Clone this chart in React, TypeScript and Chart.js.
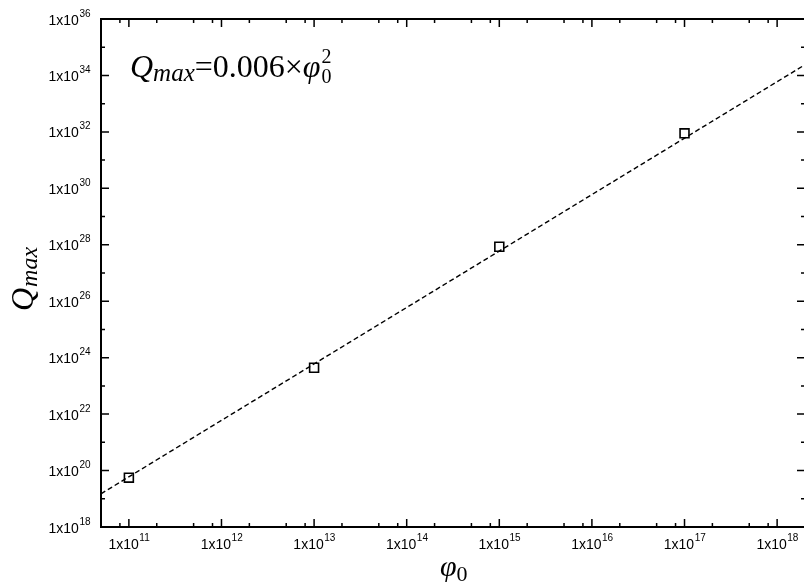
import React, { useEffect, useRef } from "react";
import { Chart, registerables } from "chart.js";

Chart.register(...registerables);

// Data
const phi0 = [1e11, 1e13, 1e15, 1e17];
const qmax = [5.6e19, 4.4e23, 8.5e27, 8.9e31];
// Dashed fit line endpoints (Qmax = 0.006 × φ0²)
const fitPhi0 = [5e10, 2e18];
const fitQmax = [1.5e19, 2.4e34];

const xMin = 5e10;
const xMax = 2e18;
const yMin = 1e18;
const yMax = 1e36;

const xMajorExps = [11, 12, 13, 14, 15, 16, 17, 18];
const xMinorMantissas = [2, 5, 8];
const yLabelExps = [18, 20, 22, 24, 26, 28, 30, 32, 34, 36];
const yMinorExps = [19, 21, 23, 25, 27, 29, 31, 33, 35];

const SANS = '"Liberation Sans", Arial, sans-serif';
const SERIF = '"Liberation Serif", "Times New Roman", serif';

const originAxes = {
  id: "originAxes",
  afterDraw(chart: any) {
    const ctx: CanvasRenderingContext2D = chart.ctx;
    const { left, right, top, bottom } = chart.chartArea;
    const xs = chart.scales.x;
    const ys = chart.scales.y;
    ctx.save();
    ctx.strokeStyle = "#000";
    ctx.fillStyle = "#000";
    ctx.lineWidth = 1.5;

    const vTick = (px: number, len: number) => {
      if (px < left - 0.5 || px > right + 0.5) return;
      ctx.beginPath();
      ctx.moveTo(px, bottom);
      ctx.lineTo(px, bottom - len);
      ctx.moveTo(px, top);
      ctx.lineTo(px, top + len);
      ctx.stroke();
    };
    const hTick = (py: number, len: number) => {
      if (py < top - 0.5 || py > bottom + 0.5) return;
      ctx.beginPath();
      ctx.moveTo(left, py);
      ctx.lineTo(left + len, py);
      ctx.moveTo(right, py);
      ctx.lineTo(right - len, py);
      ctx.stroke();
    };

    // x ticks
    const xDecades = [10, ...xMajorExps];
    xDecades.forEach((e) => {
      xMinorMantissas.forEach((m) => {
        const v = m * Math.pow(10, e);
        if (v >= xMin && v <= xMax) vTick(xs.getPixelForValue(v), 4);
      });
    });
    xMajorExps.forEach((e) => vTick(xs.getPixelForValue(Math.pow(10, e)), 8));

    // y ticks
    yMinorExps.forEach((e) => hTick(ys.getPixelForValue(Math.pow(10, e)), 4));
    yLabelExps.forEach((e) => hTick(ys.getPixelForValue(Math.pow(10, e)), 8));

    // frame
    ctx.lineWidth = 2;
    ctx.strokeRect(left, top, right - left, bottom - top);

    // tick labels
    const mainFont = "14px " + SANS;
    const supFont = "10px " + SANS;
    const sciWidth = (exp: number) => {
      ctx.font = mainFont;
      const w1 = ctx.measureText("1x10").width;
      ctx.font = supFont;
      const w2 = ctx.measureText(String(exp)).width;
      return [w1, w2];
    };
    ctx.textAlign = "left";
    ctx.textBaseline = "alphabetic";
    xMajorExps.forEach((e) => {
      const px = xs.getPixelForValue(Math.pow(10, e));
      const [w1, w2] = sciWidth(e);
      const x0 = px - (w1 + w2) / 2;
      ctx.font = mainFont;
      ctx.fillText("1x10", x0, bottom + 22);
      ctx.font = supFont;
      ctx.fillText(String(e), x0 + w1 + 0.5, bottom + 14);
    });
    yLabelExps.forEach((e) => {
      const py = ys.getPixelForValue(Math.pow(10, e));
      const [w1, w2] = sciWidth(e);
      const x0 = 90 - (w1 + w2);
      ctx.font = mainFont;
      ctx.fillText("1x10", x0, py + 5.5);
      ctx.font = supFont;
      ctx.fillText(String(e), x0 + w1 + 0.5, py - 2.5);
    });

    // x axis title φ0
    let tx = 440;
    ctx.font = "italic 30px " + SERIF;
    ctx.fillText("\u03C6", tx, 576);
    tx += ctx.measureText("\u03C6").width;
    ctx.font = "22px " + SERIF;
    ctx.fillText("0", tx, 581);

    // y axis title Qmax (rotated)
    ctx.save();
    ctx.translate(33, 311);
    ctx.rotate(-Math.PI / 2);
    ctx.font = "italic 32px " + SERIF;
    ctx.fillText("Q", 0, 0);
    const qw = ctx.measureText("Q").width;
    ctx.font = "italic 24px " + SERIF;
    ctx.fillText("max", qw + 1, 4);
    ctx.restore();

    // annotation: Qmax = 0.006 × φ0²
    let ax = 130;
    const base = 77;
    ctx.font = "italic 32px " + SERIF;
    ctx.fillText("Q", ax, base);
    ax += ctx.measureText("Q").width;
    ctx.font = "italic 25px " + SERIF;
    ctx.fillText("max", ax, base + 4);
    ax += ctx.measureText("max").width;
    ctx.font = "32px " + SERIF;
    ctx.fillText("=0.006\u00D7", ax, base);
    ax += ctx.measureText("=0.006\u00D7").width;
    ctx.font = "italic 32px " + SERIF;
    ctx.fillText("\u03C6", ax, base);
    ax += ctx.measureText("\u03C6").width;
    ctx.font = "20px " + SERIF;
    ctx.fillText("0", ax + 1, base + 6);
    ctx.fillText("2", ax + 1, base - 14);

    ctx.restore();
  },
};

export default function App() {
  const ref = useRef<HTMLCanvasElement | null>(null);
  useEffect(() => {
    if (!ref.current) return;
    const chart = new Chart(ref.current, {
      type: "scatter",
      data: {
        datasets: [
          {
            data: phi0.map((x, i) => ({ x, y: qmax[i] })),
            showLine: false,
            pointStyle: "rect",
            pointRadius: 6.3,
            pointBorderWidth: 1.6,
            borderColor: "#000",
            backgroundColor: "rgba(0,0,0,0)",
            order: 1,
          },
          {
            data: fitPhi0.map((x, i) => ({ x, y: fitQmax[i] })),
            showLine: true,
            borderColor: "#000",
            borderWidth: 1.4,
            borderDash: [5, 3],
            pointRadius: 0,
            order: 2,
          },
        ],
      },
      options: {
        animation: false,
        responsive: false,
        devicePixelRatio: 1,
        layout: { autoPadding: false, padding: { left: 101, top: 19, right: 1, bottom: 55 } },
        plugins: { legend: { display: false }, tooltip: { enabled: false } },
        scales: {
          x: { type: "logarithmic", min: xMin, max: xMax, display: false },
          y: { type: "logarithmic", min: yMin, max: yMax, display: false },
        },
      },
      plugins: [originAxes],
    });
    return () => chart.destroy();
  }, []);
  return (
    <div
      style={{
        position: "fixed",
        left: 0,
        top: 0,
        width: 804,
        height: 582,
        overflow: "hidden",
        background: "#fff",
      }}
    >
      <canvas ref={ref} width={806} height={582} style={{ display: "block" }} />
    </div>
  );
}
